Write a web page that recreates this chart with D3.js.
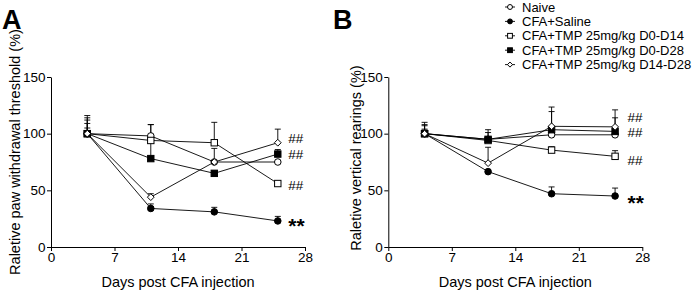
<!DOCTYPE html>
<html>
<head>
<meta charset="utf-8">
<script src="https://cdn.jsdelivr.net/npm/d3@7"></script>
<style>
  html, body { margin: 0; padding: 0; background: #fff; }
  svg { display: block; }
  text { font-family: "Liberation Sans", Arial, sans-serif; fill: #000; }
</style>
</head>
<body>
<svg id="chart" width="699" height="292"></svg>
<script>
// ---- data ----
const days = [4, 11, 18, 25];
const seriesNames = ["Naive", "CFA+Saline", "CFA+TMP 25mg/kg D0-D14", "CFA+TMP 25mg/kg D0-D28", "CFA+TMP 25mg/kg D14-D28"];
const seriesShapes = ["circleOpen", "circleFilled", "squareOpen", "squareFilled", "diamondOpen"];

// Panel A: relative paw withdrawal threshold (%)
const naiveA  = [100, 98, 75, 75];
const salineA = [100, 34, 31, 23];
const d014A   = [100, 94, 92, 56];
const d028A   = [100, 78, 65, 82];
const d1428A  = [100, 44, 75, 92];
const naiveAErr  = [14, 10, 0, 0];
const salineAErr = [5, 4, 4, 4];
const d014AErr   = [12, 14, 18, 2];
const d028AErr   = [9, 16, 2, 4];
const d1428AErr  = [16, 3, 12, 12];
const annotAText = ["##", "##", "##", "**"];
const annotAY    = [96, 82, 55, 24];

// Panel B: relative vertical rearings (%)
const naiveB  = [100, 95, 99, 99];
const salineB = [100, 66.5, 47, 45];
const d014B   = [100, 94, 85.5, 80];
const d028B   = [100, 95, 103.5, 102];
const d1428B  = [100, 74, 106.5, 106];
const naiveBErr  = [7, 6, 0, 0];
const salineBErr = [3, 0, 6, 7];
const d014BErr   = [4, 0, 3, 5];
const d028BErr   = [10, 8.5, 16, 12];
const d1428BErr  = [8, 14, 17, 15];
const annotBText = ["##", "##", "##", "**"];
const annotBY    = [115, 101, 76.5, 44];

const xTicks = [0, 7, 14, 21, 28];
const yTicks = [0, 50, 100, 150];

// ---- drawing ----
const svg = d3.select("#chart");

function drawMarker(g, shape, cx, cy, k) {
  k = k || 1;
  const open = shape.endsWith("Open");
  const fill = open ? "#fff" : "#000";
  if (shape.startsWith("circle")) {
    g.append("circle").attr("cx", cx).attr("cy", cy).attr("r", 3.3 * k)
      .attr("fill", fill).attr("stroke", "#000").attr("stroke-width", 1);
  } else if (shape.startsWith("square")) {
    const h = 3.2 * k;
    g.append("rect").attr("x", cx - h).attr("y", cy - h).attr("width", 2 * h).attr("height", 2 * h)
      .attr("fill", fill).attr("stroke", "#000").attr("stroke-width", 1);
  } else {
    const s = 3.4 * k;
    g.append("path").attr("d", `M${cx},${cy - s}L${cx + s},${cy}L${cx},${cy + s}L${cx - s},${cy}Z`)
      .attr("fill", fill).attr("stroke", "#000").attr("stroke-width", 1);
  }
}

function panel(opts) {
  const x = d3.scaleLinear().domain([0, 28]).range([opts.x0, opts.x1]);
  const y = d3.scaleLinear().domain([0, 150]).range([247, 77]);
  const g = svg.append("g");

  // axes
  const ya = g.append("g").attr("transform", `translate(${opts.x0},0)`)
    .call(d3.axisLeft(y).tickValues(yTicks).tickSize(4).tickPadding(1.5).tickSizeOuter(0));
  const xa = g.append("g").attr("transform", `translate(0,247)`)
    .call(d3.axisBottom(x).tickValues(xTicks).tickSize(4).tickPadding(1).tickSizeOuter(0));
  [ya, xa].forEach(a => {
    a.select(".domain").attr("stroke", "#000").attr("stroke-width", 1);
    a.selectAll(".tick line").attr("stroke", "#000");
    a.selectAll(".tick text").style("font-family", '"Liberation Sans", Arial, sans-serif')
      .style("font-size", "13.5px").attr("fill", "#000");
  });

  // axis titles
  g.append("text").attr("x", (opts.x0 + opts.x1) / 2).attr("y", 287)
    .attr("text-anchor", "middle").style("font-size", "14.5px").text("Days post CFA injection");
  g.append("text").attr("transform", `translate(${opts.yTitleX},${opts.yTitleY}) rotate(-90)`)
    .attr("text-anchor", "middle").style("font-size", "14.5px").text(opts.yTitle);

  // panel letter
  g.append("text").attr("x", opts.letterX).attr("y", 29).style("font-size", "27px")
    .style("font-weight", "bold").text(opts.letter);

  const line = d3.line().x((d, i) => x(days[i])).y(d => y(d));
  // lines
  opts.series.forEach(s => {
    g.append("path").attr("d", line(s.v)).attr("fill", "none")
      .attr("stroke", "#000").attr("stroke-width", 0.9);
  });
  // error bars (upward)
  opts.series.forEach(s => {
    s.v.forEach((v, i) => {
      const e = s.e[i];
      if (!e) return;
      const cx = x(days[i]);
      g.append("line").attr("x1", cx).attr("x2", cx).attr("y1", y(v)).attr("y2", y(v + e))
        .attr("stroke", "#000").attr("stroke-width", 0.9);
      g.append("line").attr("x1", cx - 3).attr("x2", cx + 3).attr("y1", y(v + e)).attr("y2", y(v + e))
        .attr("stroke", "#000").attr("stroke-width", 0.9);
    });
  });
  // markers
  opts.series.forEach(s => {
    s.v.forEach((v, i) => drawMarker(g, s.shape, x(days[i]), y(v)));
  });
  // annotations
  opts.annotText.forEach((t, i) => {
    const isStar = t === "**";
    g.append("text").attr("x", x(25) + opts.annotDx).attr("y", y(opts.annotY[i]))
      .attr("dy", isStar ? "0.62em" : "0.36em")
      .style("font-size", isStar ? "21px" : "13.5px").style("font-weight", isStar ? "bold" : "normal")
      .text(t);
  });
}

panel({
  x0: 51, x1: 305, letter: "A", letterX: 2,
  yTitle: "Raletive paw withdrawal threshold (%)", yTitleX: 20, yTitleY: 152,
  series: [
    {v: naiveA, e: naiveAErr, shape: seriesShapes[0]},
    {v: salineA, e: salineAErr, shape: seriesShapes[1]},
    {v: d014A, e: d014AErr, shape: seriesShapes[2]},
    {v: d028A, e: d028AErr, shape: seriesShapes[3]},
    {v: d1428A, e: d1428AErr, shape: seriesShapes[4]}
  ],
  annotText: annotAText, annotY: annotAY, annotDx: 10.5
});

panel({
  x0: 388.3, x1: 642.3, letter: "B", letterX: 333,
  yTitle: "Raletive vertical rearings (%)", yTitleX: 361, yTitleY: 158,
  series: [
    {v: naiveB, e: naiveBErr, shape: seriesShapes[0]},
    {v: salineB, e: salineBErr, shape: seriesShapes[1]},
    {v: d014B, e: d014BErr, shape: seriesShapes[2]},
    {v: d028B, e: d028BErr, shape: seriesShapes[3]},
    {v: d1428B, e: d1428BErr, shape: seriesShapes[4]}
  ],
  annotText: annotBText, annotY: annotBY, annotDx: 12.5
});

// legend
const legend = svg.append("g");
seriesNames.forEach((name, i) => {
  const yy = 7 + i * 14.4;
  legend.append("line").attr("x1", 505).attr("x2", 515).attr("y1", yy).attr("y2", yy)
    .attr("stroke", "#000").attr("stroke-width", 0.9);
  drawMarker(legend, seriesShapes[i], 510, yy, 0.75);
  legend.append("text").attr("x", 522).attr("y", yy).attr("dy", "0.36em")
    .style("font-size", "13px").text(name);
});
</script>
</body>
</html>
